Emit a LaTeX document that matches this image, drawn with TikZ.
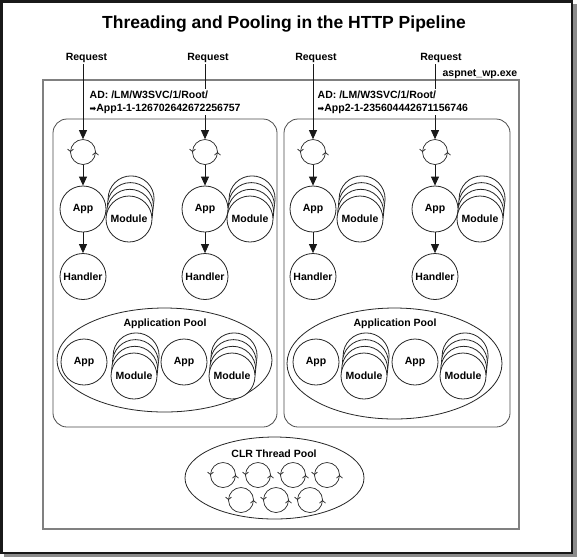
\documentclass[tikz,border=0pt]{standalone}
\usepackage{fontspec}
\setmainfont{Liberation Sans}
\newfontfamily\symfont{DejaVu Sans}
\usetikzlibrary{arrows.meta,decorations.markings}

\tikzset{
  lbl/.style={font=\fontsize{10.5}{13.5}\selectfont\bfseries, inner sep=1.5pt},
  bignode/.style={circle, draw=black!85, fill=white, line width=0.8pt,
    minimum size=46pt, inner sep=0pt, font=\fontsize{10.5}{13}\selectfont\bfseries},
  modback/.style={circle, draw=black!85, fill=white, line width=0.8pt,
    minimum size=46pt, inner sep=0pt},
  threadnode/.style={circle, draw=black!85, fill=white, line width=0.7pt,
    minimum size=25pt, inner sep=0pt,
    postaction={decorate, decoration={markings,
      mark=at position 0.5 with {\arrow{Straight Barb[length=2.5pt,width=6pt]}},
      mark=at position 0.999 with {\arrow{Straight Barb[length=2.5pt,width=6pt]}}}}},
  arr/.style={-{Triangle[length=9pt,width=8pt]}, line width=0.8pt, draw=black!90},
  adbox/.style={draw=black!70, line width=0.8pt, rounded corners=14pt},
  pool/.style={draw=black!85, line width=0.8pt}
}

\begin{document}
\begin{tikzpicture}[x=1pt,y=1pt]
\useasboundingbox (0,0) rectangle (577,-558);
% frame and shadow
\fill[black!45] (4,-4) rectangle (576.5,-557);
\filldraw[fill=white, draw=black!90, line width=2.5pt] (1.25,-1.25) rectangle (572,-553);

\node[font=\fontsize{17.5}{20}\selectfont\bfseries] (title) at (284,-24)
  {Threading and Pooling in the HTTP Pipeline};

% worker process
\draw[gray, line width=1.2pt] (43,-80) rectangle (519,-529);
\node[lbl, anchor=south east] (wp) at (519,-80) {aspnet\_wp.exe};

% app domains
\draw[adbox] (53,-119) rectangle (277,-427);
\draw[adbox] (284,-119) rectangle (510,-427);

% pools
\draw[pool] (164.5,-360) ellipse [x radius=107.5, y radius=52];
\draw[pool] (394.5,-363.5) ellipse [x radius=107.5, y radius=55.5];
\draw[pool] (274.5,-478) ellipse [x radius=89.5, y radius=41];
\node[lbl] (ap1) at (165,-324) {Application Pool};
\node[lbl] (ap2) at (395,-324) {Application Pool};
\node[lbl] (clr) at (274,-454) {CLR Thread Pool};

% requests
\node[lbl] (req1) at (86.5,-58) {Request};
\node[lbl] (req2) at (208,-58) {Request};
\node[lbl] (req3) at (316,-58) {Request};
\node[lbl] (req4) at (441,-58) {Request};

\node[threadnode] (t1) at (83,-152) {};
\node[threadnode] (t2) at (205,-152) {};
\node[threadnode] (t3) at (313,-152) {};
\node[threadnode] (t4) at (435,-152) {};

\foreach \i in {1,2,3,4}
  \draw[arr] (req\i.south -| t\i) -- (t\i);

\node[lbl, fill=white, align=left, anchor=north west] (ad1) at (88,-89)
  {AD: /LM/W3SVC/1/Root/\\{\symfont\fontsize{8}{13}\selectfont ➡}App1-1-126702642672256757};
\node[lbl, fill=white, align=left, anchor=north west] (ad2) at (316,-89)
  {AD: /LM/W3SVC/1/Root/\\{\symfont\fontsize{8}{13}\selectfont ➡}App2-1-235604442671156746};

% module stacks
\foreach \nm/\px/\py in {m1/129/219, m2/250/219, m3/360/219, m4/480/219,
    pm1/134/376, pm2/232/376, pm3/364/376, pm4/463/376} {
  \foreach \k in {3,2,1}
    \node[modback] (\nm-\k) at (\px+0.7*\k,-\py+6.7*\k) {};
  \node[bignode] (\nm) at (\px,-\py) {Module};
}

% apps and handlers
\foreach \nm/\px/\py in {a1/83/209, a2/205/209, a3/313/209, a4/435/209,
    pa1/84/362, pa2/184/362, pa3/316/362, pa4/415/362}
  \node[bignode] (\nm) at (\px,-\py) {App};
\foreach \nm/\px in {h1/83, h2/205, h3/313, h4/435}
  \node[bignode] (\nm) at (\px,-276.5) {Handler};

\foreach \i in {1,2,3,4} {
  \draw[arr] (t\i) -- (a\i);
  \draw[arr] (a\i) -- (h\i);
}

% clr threads
\foreach \nm/\px/\py in {c1/223/475, c2/258/475, c3/293/475, c4/327/475,
    c5/241/500, c6/276/500, c7/310/500}
  \node[threadnode] (\nm) at (\px,-\py) {};
\end{tikzpicture}
\end{document}
